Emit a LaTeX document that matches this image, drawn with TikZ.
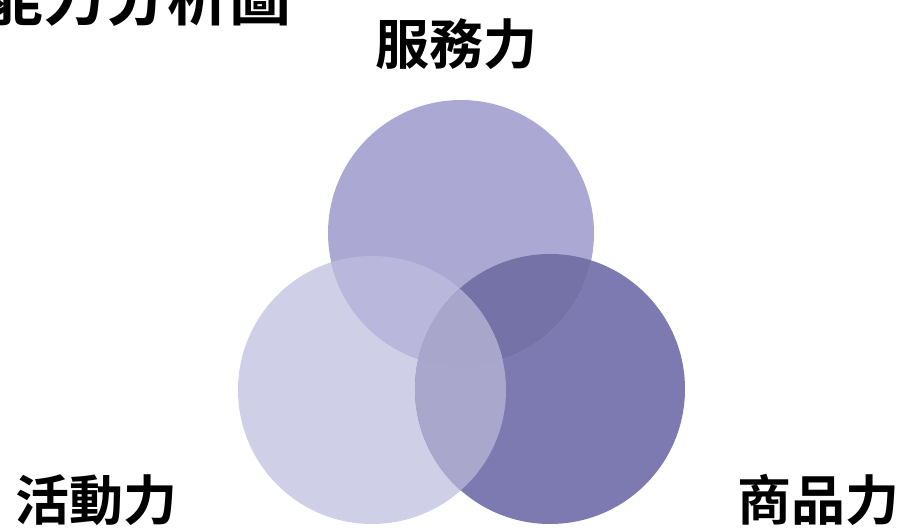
\documentclass[tikz,border=0pt]{standalone}
\usepackage{fontspec}
\newfontfamily\cjk{Noto Sans CJK TC}[BoldFont={Noto Sans CJK TC Bold}]
\begin{document}
\begin{tikzpicture}[x=1pt,y=-1pt,
  lbl/.style={font=\cjk\bfseries\fontsize{54}{60}\selectfont, inner sep=0pt, anchor=center},
  ttl/.style={font=\cjk\bfseries\fontsize{62}{68}\selectfont, inner sep=0pt, anchor=base east}]
\definecolor{cT}{HTML}{ABA9D4}
\definecolor{cL}{HTML}{D0CFE8}
\definecolor{cR}{HTML}{7C7AB1}
\definecolor{cTL}{HTML}{B9B8DC}
\definecolor{cTR}{HTML}{7472A7}
\definecolor{cLR}{HTML}{A9A7CC}
\definecolor{cC}{HTML}{A8A6CB}
\useasboundingbox (0,0) rectangle (905,530);
\coordinate (T) at (461,233);
\coordinate (L) at (372,390);
\coordinate (R) at (550,389);
\fill[cL] (L) circle[radius=134];
\fill[cR] (R) circle[radius=135];
\fill[cT] (T) circle[radius=133];
\begin{scope}
  \clip (T) circle[radius=133];
  \fill[cTL] (L) circle[radius=134];
  \fill[cTR] (R) circle[radius=135];
\end{scope}
\begin{scope}
  \clip (L) circle[radius=134];
  \fill[cLR] (R) circle[radius=135];
\end{scope}
\begin{scope}
  \clip (T) circle[radius=133];
  \clip (L) circle[radius=134];
  \fill[cC] (R) circle[radius=135];
\end{scope}
\node[ttl] (title) at (292,20) {能力分析圖};
\node[lbl] (serv) at (456,44) {服務力};
\node[lbl] (act) at (97,500) {活動力};
\node[lbl] (prod) at (818,500) {商品力};
\end{tikzpicture}
\end{document}
